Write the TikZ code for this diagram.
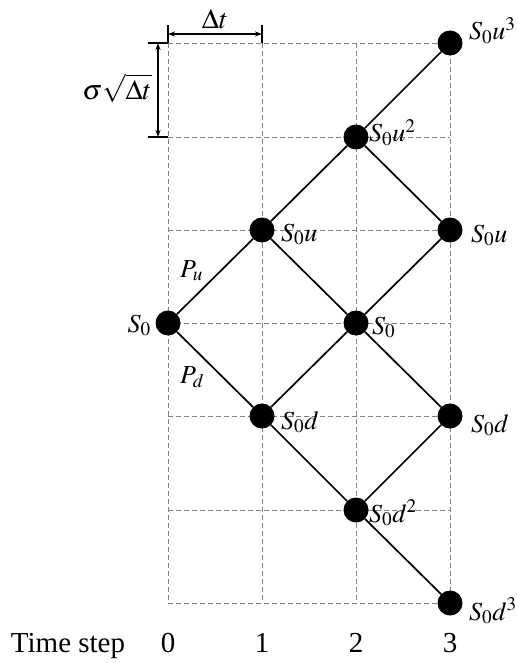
\documentclass[tikz,border=0pt]{standalone}
\usepackage{mathptmx}
\usepackage{fontspec}
\setmainfont{Liberation Serif}
\usetikzlibrary{arrows.meta}
\tikzset{
  grid/.style={draw=black!50, line width=0.9pt, dash pattern=on 5pt off 3pt},
  tree/.style={draw=black, line width=1.7pt},
  dot/.style={circle, fill=black, minimum size=25pt, inner sep=0pt},
  lbl/.style={anchor=base west, inner sep=0pt, font=\fontsize{26}{31}\selectfont},
  lbll/.style={anchor=base east, inner sep=0pt, font=\fontsize{26}{31}\selectfont},
  dim/.style={draw=black, line width=1.2pt},
  dimarrow/.style={draw=black, line width=1.2pt, {Stealth[length=7pt,width=5pt]}-{Stealth[length=7pt,width=5pt]}},
  axis/.style={anchor=base, inner sep=0pt, font=\fontsize{29}{34}\selectfont}
}
\begin{document}
\begin{tikzpicture}[x=1pt,y=-1pt]
\useasboundingbox (0,0) rectangle (518,663);
% grid
\foreach \yy in {43,137,230,323,416,510,603} {
  \draw[grid] (168,\yy) -- (450,\yy);
}
\foreach \xx in {168,262,356,450} {
  \draw[grid] (\xx,43) -- (\xx,603);
}
% dimension markers
\coordinate (tl) at (168,43);
\coordinate (tlt) at (168,25);
\coordinate (trb) at (262,43);
\coordinate (trt) at (262,25);
\coordinate (ha) at (168,34);
\coordinate (hb) at (262,34);
\draw[dim] (tl) -- (tlt);
\draw[dim] (trb) -- (trt);
\draw[dimarrow] (ha) -- (hb);
\node[inner sep=0pt, font=\fontsize{28}{32}\selectfont] (dt) at (215,19) {$\Delta t$};
\coordinate (vl1) at (148,43);
\coordinate (vl2) at (148,137);
\coordinate (vr2) at (168,137);
\coordinate (va) at (158,43);
\coordinate (vb) at (158,137);
\draw[dim] (vl1) -- (tl);
\draw[dim] (vl2) -- (vr2);
\draw[dimarrow] (va) -- (vb);
\node[inner sep=0pt, font=\fontsize{28}{32}\selectfont] (sig) at (117,88) {$\sigma\sqrt{\Delta t}$};
% tree nodes
\node[dot] (a0) at (168,323) {};
\node[dot] (b1) at (262,230) {};
\node[dot] (b0) at (262,416) {};
\node[dot] (c2) at (356,137) {};
\node[dot] (c1) at (356,323) {};
\node[dot] (c0) at (356,510) {};
\node[dot] (d3) at (450,43) {};
\node[dot] (d2) at (450,230) {};
\node[dot] (d1) at (450,416) {};
\node[dot] (d0) at (450,603) {};
% tree edges
\draw[tree] (a0) -- (b1);
\draw[tree] (a0) -- (b0);
\draw[tree] (b1) -- (c2);
\draw[tree] (b1) -- (c1);
\draw[tree] (b0) -- (c1);
\draw[tree] (b0) -- (c0);
\draw[tree] (c2) -- (d3);
\draw[tree] (c2) -- (d2);
\draw[tree] (c1) -- (d2);
\draw[tree] (c1) -- (d1);
\draw[tree] (c0) -- (d1);
\draw[tree] (c0) -- (d0);
% labels
\node[lbl] (ld3) at (469,40) {$S_0u^3$};
\node[lbl] (lc2) at (369,142) {$S_0u^2$};
\node[lbl] (ld2) at (471,242) {$S_0u$};
\node[lbl] (lb1) at (281,241) {$S_0u$};
\node[lbll] (la0) at (151,332) {$S_0$};
\node[lbl] (lc1) at (372,334) {$S_0$};
\node[lbl] (lb0) at (281,429) {$S_0d$};
\node[lbl] (ld1) at (471,432) {$S_0d$};
\node[lbl] (lc0) at (369,522) {$S_0d^2$};
\node[lbl] (ld0) at (469,620) {$S_0d^3$};
\node[lbl] (pu) at (180,277) {$P_u$};
\node[lbl] (pd) at (180,383) {$P_d$};
% time axis
\node[axis] (ts) at (68,652) {Time step};
\node[axis] (t0) at (168,652) {0};
\node[axis] (t1) at (262,652) {1};
\node[axis] (t2) at (356,652) {2};
\node[axis] (t3) at (450,652) {3};
\end{tikzpicture}
\end{document}
